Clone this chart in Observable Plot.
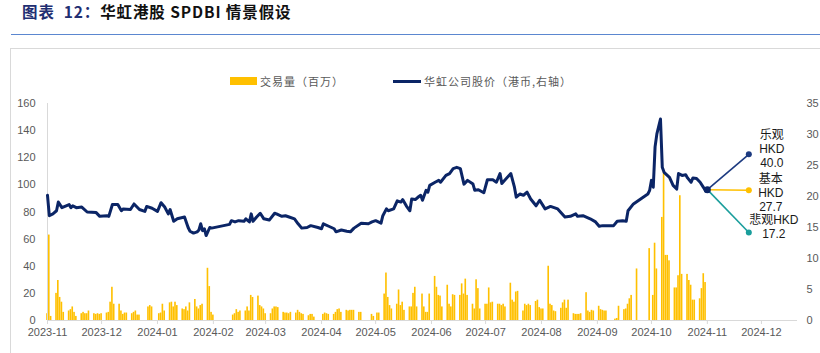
<!DOCTYPE html>
<html><head><meta charset="utf-8">
<script src="https://cdn.jsdelivr.net/npm/d3@7"></script>
<script src="https://cdn.jsdelivr.net/npm/@observablehq/plot@0.6"></script>
<style>
body{margin:0;width:820px;height:353px;position:relative;overflow:hidden;background:#fff;font-family:"Liberation Sans","Noto Sans CJK SC",sans-serif}
#title{position:absolute;left:22px;top:2px;line-height:18px;font-size:15.5px;font-weight:bold;color:#111;white-space:nowrap;letter-spacing:0.9px;font-family:"Noto Sans CJK SC",sans-serif}
#title .lab{color:#1f2f72}
#rule{position:absolute;left:11px;right:0;top:34px;height:1px;background:#5b87d0}
#frame{position:absolute;left:10px;top:48px;width:830px;height:320px;border-left:1px solid #d9d9d9;border-top:1px solid #d9d9d9}
#legend{position:absolute;top:72px;left:0;width:820px;height:18px;font-size:11px;color:#595959;letter-spacing:1px;font-family:"Noto Sans CJK SC",sans-serif}
#legend span{position:absolute;line-height:18px;top:0;white-space:nowrap}
#chart{position:absolute;left:0;top:90px}
</style></head>
<body>
<div id="title"><span class="lab">图表&nbsp;&nbsp;12：</span>华虹港股 SPDBI 情景假设</div>
<div id="rule"></div>
<div id="frame"></div>
<div id="legend"></div>
<div id="chart"></div>
<script>
const legendLabels = ["交易量（百万）", "华虹公司股价（港币,右轴）"];
const monthLabels = ["2023-11","2023-12","2024-01","2024-02","2024-03","2024-04","2024-05","2024-06","2024-07","2024-08","2024-09","2024-10","2024-11","2024-12"];
const volumeTicks = [0,20,40,60,80,100,120,140,160];
const priceTicks = [0,5,10,15,20,25,30,35];

const price = [
["2023-11-01",20.2],["2023-11-02",16.9],["2023-11-04",17.2],["2023-11-06",17.7],["2023-11-07",19.1],["2023-11-09",18.2],
["2023-11-13",18.7],["2023-11-14",18.2],["2023-11-15",18.5],["2023-11-17",18.2],["2023-11-20",18.3],["2023-11-23",17.5],
["2023-11-28",17.4],["2023-11-30",16.8],["2023-12-04",16.9],["2023-12-05",16.8],["2023-12-07",18.7],["2023-12-10",18.7],
["2023-12-12",17.7],["2023-12-13",18.0],["2023-12-17",17.9],["2023-12-19",18.8],["2023-12-22",17.9],["2023-12-25",17.6],
["2023-12-26",18.4],["2023-12-29",18.1],["2024-01-01",17.6],["2024-01-03",19.0],["2024-01-05",18.3],["2024-01-07",17.2],
["2024-01-08",17.9],["2024-01-10",16.0],["2024-01-12",16.4],["2024-01-16",16.7],["2024-01-18",15.0],["2024-01-19",14.4],
["2024-01-21",14.1],["2024-01-23",14.3],["2024-01-24",14.6],["2024-01-25",15.6],["2024-01-26",14.5],["2024-01-27",14.8],
["2024-01-28",13.7],["2024-01-30",15.0],["2024-01-31",14.9],["2024-02-10",15.5],["2024-02-11",16.1],["2024-02-13",15.9],
["2024-02-15",16.1],["2024-02-18",16.0],["2024-02-19",16.4],["2024-02-21",15.9],["2024-02-22",17.2],["2024-02-23",16.0],
["2024-02-25",16.7],["2024-02-27",17.3],["2024-02-29",16.4],["2024-03-03",16.2],["2024-03-06",17.3],["2024-03-07",17.2],
["2024-03-10",16.8],["2024-03-12",16.9],["2024-03-14",16.7],["2024-03-17",16.4],["2024-03-19",15.6],["2024-03-21",14.9],
["2024-03-24",15.0],["2024-03-26",15.3],["2024-03-30",15.0],["2024-04-01",14.8],["2024-04-02",15.6],["2024-04-05",15.2],
["2024-04-08",14.8],["2024-04-09",14.3],["2024-04-12",14.6],["2024-04-15",14.4],["2024-04-17",14.3],["2024-04-19",14.9],
["2024-04-23",15.7],["2024-04-27",15.6],["2024-04-29",15.9],["2024-05-01",16.1],["2024-05-04",15.7],["2024-05-05",16.9],
["2024-05-07",18.0],["2024-05-08",17.7],["2024-05-11",18.0],["2024-05-13",19.3],["2024-05-15",19.1],["2024-05-16",19.5],
["2024-05-18",18.5],["2024-05-20",17.7],["2024-05-21",19.6],["2024-05-23",19.5],["2024-05-25",20.0],["2024-05-26",20.2],
["2024-05-27",19.4],["2024-05-29",21.0],["2024-05-30",20.7],["2024-05-31",21.8],["2024-06-03",22.3],["2024-06-05",22.6],
["2024-06-06",22.3],["2024-06-09",23.4],["2024-06-11",23.7],["2024-06-13",24.5],["2024-06-15",24.7],["2024-06-17",24.5],
["2024-06-19",22.0],["2024-06-21",22.6],["2024-06-24",22.0],["2024-06-25",21.0],["2024-06-27",21.1],["2024-06-30",20.6],
["2024-07-02",22.7],["2024-07-05",22.7],["2024-07-07",22.3],["2024-07-09",23.7],["2024-07-10",22.1],["2024-07-14",23.4],
["2024-07-15",23.7],["2024-07-17",21.5],["2024-07-18",19.9],["2024-07-20",20.4],["2024-07-22",20.2],["2024-07-24",20.7],
["2024-07-26",19.6],["2024-07-29",18.5],["2024-07-31",19.4],["2024-08-03",18.0],["2024-08-06",18.4],["2024-08-10",18.0],
["2024-08-14",16.7],["2024-08-17",16.8],["2024-08-20",17.2],["2024-08-21",16.8],["2024-08-24",16.9],["2024-08-28",16.4],
["2024-08-31",15.9],["2024-09-02",15.2],["2024-09-04",15.3],["2024-09-10",15.3],["2024-09-12",16.0],["2024-09-15",16.1],
["2024-09-17",16.0],["2024-09-18",17.7],["2024-09-21",18.8],["2024-09-25",19.6],["2024-09-29",20.4],["2024-09-30",21.0],
["2024-10-01",22.6],["2024-10-02",21.5],["2024-10-03",28.0],["2024-10-04",30.1],["2024-10-06",32.5],["2024-10-07",24.7],
["2024-10-08",23.9],["2024-10-11",23.1],["2024-10-13",21.8],["2024-10-15",21.2],["2024-10-16",23.7],["2024-10-18",23.4],
["2024-10-20",23.5],["2024-10-21",23.0],["2024-10-23",22.3],["2024-10-24",23.0],["2024-10-26",22.9],["2024-10-28",22.3],
["2024-10-30",21.4],["2024-10-31",20.9],["2024-11-01",21.1]
];

const volume = [
["2023-11-01",5],["2023-11-02",63],["2023-11-03",3],
["2023-11-06",20],["2023-11-07",29.5],["2023-11-08",17],["2023-11-09",13.5],["2023-11-10",6],
["2023-11-13",7],["2023-11-14",8],["2023-11-15",10],["2023-11-16",6],["2023-11-17",3],
["2023-11-20",5],["2023-11-21",6],["2023-11-22",5],["2023-11-23",5],["2023-11-24",7],
["2023-11-27",5],["2023-11-28",4.5],["2023-11-29",5],["2023-11-30",4.5],["2023-12-01",5],
["2023-12-04",5.5],["2023-12-05",6],["2023-12-06",13.5],["2023-12-07",24.5],["2023-12-08",12],
["2023-12-11",12],["2023-12-12",7],["2023-12-13",4.5],["2023-12-14",5.5],["2023-12-15",5.5],
["2023-12-18",5],["2023-12-19",6],["2023-12-20",7],["2023-12-21",4],["2023-12-22",4],
["2023-12-27",10],["2023-12-28",11],["2023-12-29",10],
["2024-01-02",5],["2024-01-03",5.5],["2024-01-04",12],["2024-01-05",7],
["2024-01-08",13],["2024-01-09",13.5],["2024-01-10",10],["2024-01-11",13.5],["2024-01-12",11],
["2024-01-15",8.5],["2024-01-16",8],["2024-01-17",10],["2024-01-18",7],["2024-01-19",13],
["2024-01-22",15.5],["2024-01-23",10],["2024-01-24",8.5],["2024-01-25",11],["2024-01-26",12],
["2024-01-29",38.5],["2024-01-30",25],["2024-01-31",6],["2024-02-01",4],
["2024-02-12",4],["2024-02-13",5],["2024-02-14",8],["2024-02-15",6],["2024-02-16",7],
["2024-02-19",7],["2024-02-20",10],["2024-02-21",7],["2024-02-22",18.5],["2024-02-23",17],
["2024-02-26",18],["2024-02-27",11],["2024-02-28",10],["2024-02-29",8.5],["2024-03-01",5],
["2024-03-04",5],["2024-03-05",8.5],["2024-03-06",10],["2024-03-07",10],["2024-03-08",9.5],
["2024-03-11",6],["2024-03-12",5.5],["2024-03-13",5.5],["2024-03-14",5],["2024-03-15",6],
["2024-03-18",5.5],["2024-03-19",7.5],["2024-03-20",6],["2024-03-21",5],["2024-03-22",4.5],
["2024-03-25",3.5],["2024-03-26",4.5],["2024-03-27",4.5],["2024-03-28",2.5],
["2024-04-02",4.5],["2024-04-03",5.5],["2024-04-04",5],["2024-04-05",4.5],
["2024-04-08",4.5],["2024-04-09",6],["2024-04-10",8],["2024-04-11",8.5],["2024-04-12",6],
["2024-04-15",7.5],["2024-04-16",7],["2024-04-17",7.5],["2024-04-18",7.5],["2024-04-19",7.5],
["2024-04-22",6],["2024-04-23",6],
["2024-04-29",4.5],["2024-04-30",3],["2024-05-02",5.5],["2024-05-03",5.5],
["2024-05-06",19.5],["2024-05-07",35],["2024-05-08",17],["2024-05-09",11],["2024-05-10",8.5],
["2024-05-13",12],["2024-05-14",22.5],["2024-05-15",11],["2024-05-16",13.5],["2024-05-17",7.5],
["2024-05-20",10],["2024-05-21",10],["2024-05-22",20],["2024-05-23",24.5],["2024-05-24",10],
["2024-05-27",19.5],["2024-05-28",10],["2024-05-29",6],["2024-05-30",6],["2024-05-31",19.5],
["2024-06-03",32.5],["2024-06-04",24.5],["2024-06-05",18.5],["2024-06-06",18],["2024-06-07",10],
["2024-06-10",26],["2024-06-11",12],["2024-06-12",10],["2024-06-13",19],["2024-06-14",18.5],
["2024-06-17",18.5],["2024-06-18",27],["2024-06-19",19.5],["2024-06-20",30.5],["2024-06-21",18.5],
["2024-06-24",12],["2024-06-25",8.5],["2024-06-26",30],["2024-06-27",23.5],["2024-06-28",8.5],
["2024-07-01",12],["2024-07-02",12],["2024-07-03",24],["2024-07-04",13],["2024-07-05",13.5],
["2024-07-08",12],["2024-07-09",12],["2024-07-10",11],["2024-07-11",12],["2024-07-12",10],
["2024-07-15",27.5],["2024-07-16",15],["2024-07-17",13.5],["2024-07-18",21],["2024-07-19",21.5],
["2024-07-22",7],["2024-07-23",12],["2024-07-24",11],["2024-07-25",12],["2024-07-26",11],
["2024-07-29",14],["2024-07-30",15],["2024-07-31",9.5],["2024-08-01",8.5],["2024-08-02",8.5],
["2024-08-05",40],["2024-08-06",12],["2024-08-07",11],["2024-08-08",7],["2024-08-09",6.5],
["2024-08-12",9],["2024-08-13",13],["2024-08-14",15],["2024-08-15",9],["2024-08-16",15],
["2024-08-19",5],["2024-08-20",4.5],["2024-08-21",4.5],["2024-08-22",4.5],["2024-08-23",5],
["2024-08-26",20.5],["2024-08-27",7],["2024-08-28",6],["2024-08-29",7.5],["2024-08-30",7],
["2024-09-02",10.5],["2024-09-03",8],["2024-09-04",7.5],["2024-09-05",7],["2024-09-06",7],
["2024-09-11",1],["2024-09-12",1.5],["2024-09-13",10.5],
["2024-09-16",8],["2024-09-17",8.5],["2024-09-18",12],["2024-09-19",16],["2024-09-20",18.5],
["2024-09-23",38],["2024-09-30",53],
["2024-10-02",18.5],["2024-10-03",57],["2024-10-04",38],
["2024-10-07",76],["2024-10-08",109],["2024-10-09",48],["2024-10-10",48],["2024-10-11",44],
["2024-10-14",24],["2024-10-15",24],["2024-10-16",33],["2024-10-17",92],["2024-10-18",34],
["2024-10-21",34],["2024-10-22",29.5],["2024-10-23",26],["2024-10-24",15],["2024-10-25",15],
["2024-10-28",16],["2024-10-29",23.5],["2024-10-30",34.5],["2024-10-31",28]
];

const scenarioNames = ["乐观","基本","悲观"];
const scenarioTargets = [40.0, 27.7, 17.2];
const scenarioPlotted = [26.8, 21.0, 14.2];
const scenarioDate = "2024-11-24";
const scenarioColors = ["#1c3a80","#ffc000","#1a9e9c"];

const parse = s => new Date(s + "T00:00:00Z");
const DAY = 864e5;
const k = 160 / 35;
const navy = "#0b2566";
const latinCjk = "'Liberation Sans', Arial, 'Noto Sans CJK SC', sans-serif";

const priceRows = price.map(([d, v]) => ({date: parse(d), v}));
const volRows = volume.map(([d, v]) => ({date: parse(d), v}));
const last = priceRows[priceRows.length - 1];
const scen = scenarioNames.map((name, i) => ({
  name, target: scenarioTargets[i], end: scenarioPlotted[i], color: scenarioColors[i],
  x1: last.date, y1: last.v, x2: parse(scenarioDate)
}));
const labelOffsets = [[23, -6], [22, 2], [25, -6]];

// legend
const lg = document.getElementById("legend");
lg.innerHTML =
  `<span style="left:230px;top:5px;width:27px;height:8px;background:#ffc000"></span>` +
  `<span style="left:260px">${legendLabels[0]}</span>` +
  `<span style="left:393px;top:8px;width:28px;height:3px;background:${navy}"></span>` +
  `<span style="left:424px">${legendLabels[1]}</span>`;

const chart = Plot.plot({
  width: 820, height: 263,
  marginLeft: 47, marginRight: 23, marginTop: 13, marginBottom: 33,
  style: {fontFamily: "'Liberation Sans', Arial, sans-serif", fontSize: "11px", background: "transparent", overflow: "visible"},
  x: {type: "utc", domain: [parse("2023-11-01"), parse("2024-12-21")]},
  y: {domain: [0, 160]},
  marks: [
    Plot.rectY(volRows, {x1: d => new Date(+d.date - DAY * 0.45), x2: d => new Date(+d.date + DAY * 0.45), y: "v", fill: "#ffc000"}),
    Plot.ruleY([0], {stroke: "#d9d9d9"}),
    Plot.ruleX([parse("2023-11-01")], {y1: 0, y2: 160, stroke: "#d9d9d9"}),
    Plot.axisX(monthLabels.map(m => parse(m + "-01")), {tickFormat: d3.utcFormat("%Y-%m"), tickSize: 4, tickPadding: 4, stroke: "#d9d9d9", fill: "#595959", label: null}),
    Plot.axisY(volumeTicks, {anchor: "left", tickSize: 0, tickPadding: 12, fill: "#595959", label: null}),
    Plot.axisY(priceTicks.map(v => v * k), {anchor: "right", tickSize: 0, tickPadding: 9, fill: "#595959", label: null, tickFormat: v => String(Math.round(v / k))}),
    Plot.line(priceRows, {x: "date", y: d => d.v * k, stroke: navy, strokeWidth: 3, strokeLinejoin: "round", strokeLinecap: "round"}),
    Plot.link(scen, {x1: "x1", y1: d => d.y1 * k, x2: "x2", y2: d => d.end * k, stroke: "color", strokeWidth: 1.6}),
    Plot.dot(scen, {x: "x2", y: d => d.end * k, fill: "color", r: 3}),
    Plot.dot([last], {x: "date", y: d => d.v * k, fill: navy, r: 3.5}),
    ...scen.map((s, i) => Plot.text([s], {
      x: "x2", y: d => d.end * k,
      text: d => i === 2 ? `${d.name}HKD\n${d.target.toFixed(1)}` : `${d.name}\nHKD\n${d.target.toFixed(1)}`,
      dx: labelOffsets[i][0], dy: labelOffsets[i][1], lineHeight: 1.2,
      fontSize: 12, fill: "#1a1a1a", fontFamily: latinCjk, textAnchor: "middle"
    }))
  ]
});
document.getElementById("chart").appendChild(chart);
</script>
</body></html>
